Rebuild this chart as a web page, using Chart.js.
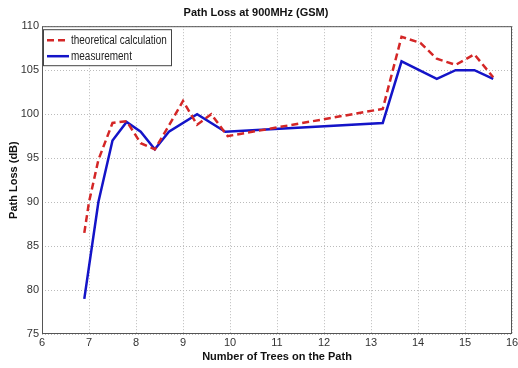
<!DOCTYPE html>
<html>
<head>
<meta charset="utf-8">
<script src="https://cdn.jsdelivr.net/npm/chart.js@4.4.0/dist/chart.umd.min.js"></script>
<style>
  html, body { margin: 0; padding: 0; background: #fff; }
</style>
</head>
<body>
<canvas id="line-chart" width="518" height="368"></canvas>
<script>
// data
var theoryX = [6.9, 7.0, 7.2, 7.5, 7.8, 8.1, 8.4, 8.7, 9.0, 9.3, 9.6, 9.95, 13.25, 13.65, 14.05, 14.4, 14.8, 15.2, 15.6];
var theoryY = [86.5, 90, 94.8, 99, 99.2, 96.7, 96, 98.7, 101.5, 98.8, 100, 97.5, 100.6, 108.8, 108.1, 106.3, 105.6, 106.8, 104.2];
var measX = [6.9, 7.2, 7.5, 7.8, 8.1, 8.4, 8.7, 9.3, 9.9, 13.25, 13.65, 14.4, 14.8, 15.2, 15.6];
var measY = [79, 90, 97, 99.1, 98, 96, 98, 100, 98, 99, 106, 104, 105, 105, 104];
var xTicks = [6, 7, 8, 9, 10, 11, 12, 13, 14, 15, 16];
var yTicks = [75, 80, 85, 90, 95, 100, 105, 110];

function toPoints(xs, ys) {
  return xs.map(function(x, i) { return { x: x, y: ys[i] }; });
}

var ctx = document.getElementById("line-chart");
var font = "'Liberation Sans', Arial, sans-serif";

// box around the plot + matlab style legend
var boxPlugin = {
  id: 'box',
  afterDraw: function(chart) {
    var c = chart.ctx, a = chart.chartArea;
    c.save();
    c.strokeStyle = '#555';
    c.lineWidth = 1;
    c.strokeRect(a.left + 0.5, a.top + 0.5, a.right - a.left - 1, a.bottom - a.top - 1);

    var lx = a.left + 1, ly = a.top + 3, lw = 128, lh = 36;
    c.fillStyle = '#fff';
    c.fillRect(lx, ly, lw, lh);
    c.strokeStyle = '#444';
    c.strokeRect(lx + 0.5, ly + 0.5, lw, lh);
    c.font = '12px ' + font;
    c.textBaseline = 'middle';
    chart.data.datasets.forEach(function(ds, i) {
      var yy = ly + 11 + i * 16;
      c.strokeStyle = ds.borderColor;
      c.lineWidth = ds.borderWidth;
      c.setLineDash(ds.borderDash || []);
      c.beginPath();
      c.moveTo(lx + 4, yy);
      c.lineTo(lx + 26, yy);
      c.stroke();
      c.setLineDash([]);
      c.fillStyle = '#222';
      c.save();
      c.translate(lx + 28, yy);
      c.scale(0.83, 1);
      c.fillText(ds.label, 0, 0);
      c.restore();
    });
    c.restore();
  }
};

var config = {
  type: 'line',
  data: {
    datasets: [{
      label: 'theoretical calculation',
      data: toPoints(theoryX, theoryY),
      borderColor: 'rgb(212, 38, 38)',
      borderWidth: 2.5,
      borderDash: [7, 4],
      pointRadius: 0,
      fill: false,
      tension: 0
    }, {
      label: 'measurement',
      data: toPoints(measX, measY),
      borderColor: 'rgb(20, 20, 200)',
      borderWidth: 2.5,
      pointRadius: 0,
      fill: false,
      tension: 0
    }]
  },
  options: {
    responsive: false,
    animation: false,
    layout: { padding: { top: 3, right: 6, left: 0, bottom: 0 } },
    plugins: {
      legend: { display: false },
      tooltip: { enabled: false },
      title: {
        display: true,
        text: 'Path Loss at 900MHz (GSM)',
        color: '#111',
        font: { family: font, size: 11, weight: 'bold' },
        padding: { top: 3, bottom: 7 }
      }
    },
    scales: {
      x: {
        type: 'linear',
        min: 6, max: 16,
        afterBuildTicks: function(s) { s.ticks = xTicks.map(function(v) { return { value: v }; }); },
        afterFit: function(s) { s.height = 34; s.paddingRight = 0; },
        ticks: { color: '#333', font: { family: font, size: 11 }, padding: 2, maxRotation: 0, autoSkip: false },
        grid: { color: '#bbb', lineWidth: 1, drawTicks: false },
        border: { display: false, dash: [1, 2] },
        title: {
          display: true,
          text: 'Number of Trees on the Path',
          color: '#111',
          font: { family: font, size: 11, weight: 'bold' },
          padding: { top: 0, bottom: 4 }
        }
      },
      y: {
        min: 75, max: 110,
        afterBuildTicks: function(s) { s.ticks = yTicks.map(function(v) { return { value: v }; }); },
        afterFit: function(s) { s.width = 42; },
        ticks: { color: '#333', font: { family: font, size: 11 }, padding: 3, autoSkip: false },
        grid: { color: '#bbb', lineWidth: 1, drawTicks: false },
        border: { display: false, dash: [1, 2] },
        title: {
          display: true,
          text: 'Path Loss (dB)',
          color: '#111',
          font: { family: font, size: 11, weight: 'bold' },
          padding: { top: 7, bottom: 0 }
        }
      }
    }
  },
  plugins: [boxPlugin]
};

var chart = new Chart(ctx, config);
</script>
</body>
</html>
